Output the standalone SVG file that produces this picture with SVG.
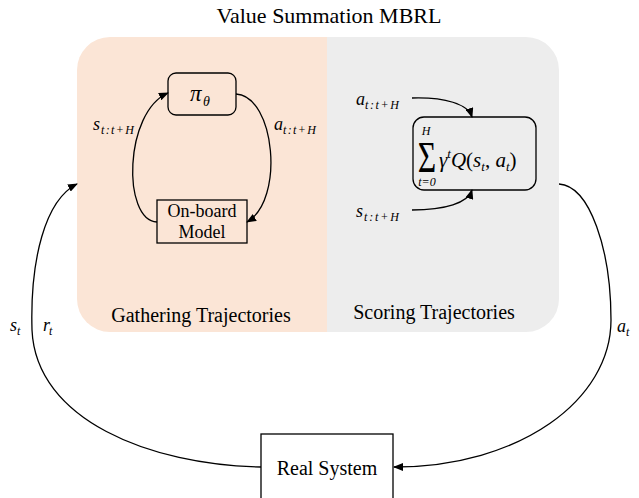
<svg xmlns="http://www.w3.org/2000/svg" width="639" height="498" viewBox="0 0 639 498">
  <style>
    .lbl { font-family: "Liberation Serif", "Times New Roman", serif; fill: #000; }
    .m { font-family: "Liberation Serif", "DejaVu Serif", serif; font-style: italic; fill: #000; }
    .box { fill: none; stroke: #000; stroke-width: 1.3; }
    .conn { fill: none; stroke: #000; stroke-width: 1.3; }
  </style>
  <defs>
    <clipPath id="panelClip">
      <rect x="77" y="37" width="482" height="295" rx="33" ry="33"/>
    </clipPath>
    <marker id="arr" markerWidth="10" markerHeight="8" refX="9" refY="4" orient="auto" markerUnits="userSpaceOnUse">
      <path d="M0,0 L10,4 L0,8 Z" fill="#000"/>
    </marker>
  </defs>
  <rect width="639" height="498" fill="#fff"/>

  <text class="lbl" x="329" y="23" font-size="22" text-anchor="middle">Value Summation MBRL</text>

  <g id="panel" clip-path="url(#panelClip)">
    <rect x="77" y="37" width="250" height="295" fill="#FBE5D6"/>
    <rect x="327" y="37" width="232" height="295" fill="#EDEDED"/>
  </g>
  <text class="lbl" x="201" y="322" font-size="20" text-anchor="middle">Gathering Trajectories</text>
  <text class="lbl" x="434" y="319" font-size="20" text-anchor="middle">Scoring Trajectories</text>

  <g id="policy">
    <rect class="box" x="168" y="73" width="68" height="42" rx="8" ry="8"/>
    <text class="m" x="190" y="101" font-size="23">π</text>
    <text class="m" x="203" y="106" font-size="14">θ</text>
  </g>

  <g id="onboard">
    <rect class="box" x="157" y="200" width="90" height="43"/>
    <text class="lbl" x="202" y="217" font-size="18" text-anchor="middle">On-board</text>
    <text class="lbl" x="202" y="238" font-size="18" text-anchor="middle">Model</text>
  </g>

  <g id="scorer">
    <rect class="box" x="413" y="117" width="123" height="73" rx="11" ry="11"/>
    <text class="lbl" transform="translate(427,172) scale(0.72,1)" font-size="44" text-anchor="middle">Σ</text>
    <text class="m" x="426" y="135" font-size="12" text-anchor="middle">H</text>
    <text class="m" x="427" y="186" font-size="12" text-anchor="middle">t=0</text>
    <text class="m" x="439" y="167" font-size="21">γ<tspan dy="-9" font-size="13">t</tspan><tspan dy="9">Q</tspan><tspan font-style="normal">(</tspan><tspan>s</tspan><tspan dy="4" font-size="13">t</tspan><tspan dy="-4" font-style="normal">, </tspan><tspan>a</tspan><tspan dy="4" font-size="13">t</tspan><tspan dy="-4" font-style="normal">)</tspan></text>
  </g>

  <g id="realsystem">
    <rect class="box" x="261" y="434" width="132" height="80"/>
    <text class="lbl" x="327" y="475" font-size="20" text-anchor="middle">Real System</text>
  </g>

  <g id="connectors">
    <path class="conn" d="M157,222 C122,220 124,112 168,93" marker-end="url(#arr)"/>
    <path class="conn" d="M236,94 C275,96 285,200 247,222" marker-end="url(#arr)"/>
    <path class="conn" d="M412,98 C445,97 468,104 472,117" marker-end="url(#arr)"/>
    <path class="conn" d="M412,210 C445,210 468,203 472,190" marker-end="url(#arr)"/>
    <path class="conn" d="M559,184 C590,186 611,250 611,320 C611,400 520,467 394,467" marker-end="url(#arr)"/>
    <path class="conn" d="M261,467 C150,465 36,420 32,330 C30,260 45,200 77,184" marker-end="url(#arr)"/>
  </g>

  <g id="labels">
    <text class="m" x="93" y="130" font-size="18">s</text>
    <text class="m" x="101" y="134" font-size="12" textLength="33" lengthAdjust="spacing">t:t+H</text>
    <text class="m" x="274" y="130" font-size="18">a</text>
    <text class="m" x="283" y="134" font-size="12" textLength="33" lengthAdjust="spacing">t:t+H</text>
    <text class="m" x="356" y="105" font-size="18">a</text>
    <text class="m" x="365" y="109" font-size="12" textLength="34" lengthAdjust="spacing">t:t+H</text>
    <text class="m" x="356" y="217" font-size="18">s</text>
    <text class="m" x="364" y="221" font-size="12" textLength="35" lengthAdjust="spacing">t:t+H</text>
    <text class="m" x="10" y="331" font-size="18">s</text>
    <text class="m" x="17" y="335" font-size="12">t</text>
    <text class="m" x="43" y="331" font-size="18">r</text>
    <text class="m" x="49" y="335" font-size="12">t</text>
    <text class="m" x="617" y="332" font-size="18">a</text>
    <text class="m" x="626" y="336" font-size="12">t</text>
  </g>
</svg>
